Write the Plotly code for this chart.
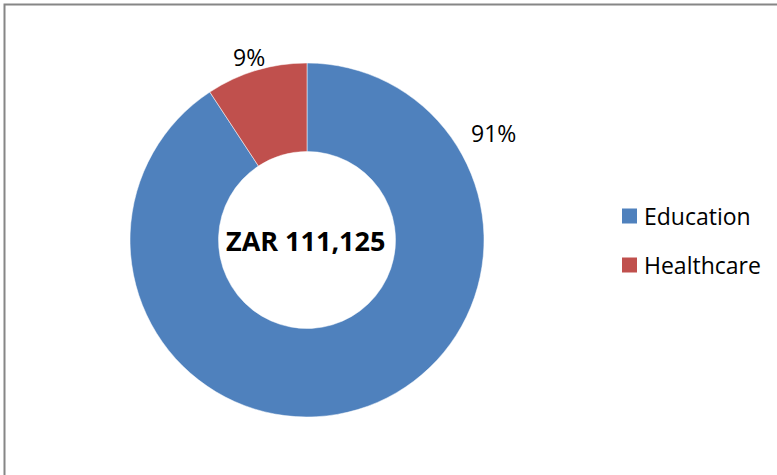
import plotly.graph_objects as go

# ---- data ----
categories = ["Education", "Healthcare"]
values = [100847, 10278]          # ZAR
colors = ["#4F81BD", "#C0504D"]
currency = "ZAR"

W, H = 777, 475
total = sum(values)
pcts = [round(v / total * 100) for v in values]

def px(x):
    return x / W

def py(y):
    return 1 - y / H

fig = go.Figure()
fig.add_trace(go.Pie(
    labels=categories,
    values=values,
    hole=0.5,
    sort=False,
    direction="clockwise",
    rotation=0,
    marker=dict(colors=colors, line=dict(color="white", width=0.5)),
    textinfo="none",
    hoverinfo="label+value+percent",
    showlegend=False,
    domain=dict(x=[px(130), px(484)], y=[py(417), py(63)]),
))

font = "Open Sans, Liberation Sans, sans-serif"
annotations = []
# percentage labels
label_pos = [(493, 133), (249, 57)]
for p, (lx, ly) in zip(pcts, label_pos):
    annotations.append(dict(x=px(lx), y=py(ly), xref="paper", yref="paper",
                            text=f"{p}%", showarrow=False,
                            xanchor="center", yanchor="middle",
                            font=dict(family=font, size=23, color="#000000")))
# center total
annotations.append(dict(x=px(305), y=py(240), xref="paper", yref="paper",
                        text=f"<b>{currency} {total:,}</b>", showarrow=False,
                        xanchor="center", yanchor="middle",
                        font=dict(family=font, size=27, color="#000000")))

shapes = [dict(type="rect", xref="paper", yref="paper",
               x0=px(4.5), y0=py(4.5), x1=px(790), y1=py(490),
               line=dict(color="#868686", width=2), fillcolor="rgba(0,0,0,0)")]

# manual legend
legend_y = [216, 265]
for cat, col, ly in zip(categories, colors, legend_y):
    shapes.append(dict(type="rect", xref="paper", yref="paper",
                       x0=px(622), x1=px(637), y0=py(ly - 7.5), y1=py(ly + 7.5),
                       line=dict(width=0), fillcolor=col))
    annotations.append(dict(x=px(642), y=py(ly), xref="paper", yref="paper",
                            text=cat, showarrow=False,
                            xanchor="left", yanchor="middle",
                            font=dict(family=font, size=23, color="#000000")))

fig.update_layout(
    width=W, height=H,
    margin=dict(l=0, r=0, t=0, b=0),
    paper_bgcolor="white",
    plot_bgcolor="white",
    annotations=annotations,
    shapes=shapes,
)

fig.write_html("out.html",
               config={"displayModeBar": False},
               post_script="document.body.style.margin='0';document.body.style.overflow='hidden';")
